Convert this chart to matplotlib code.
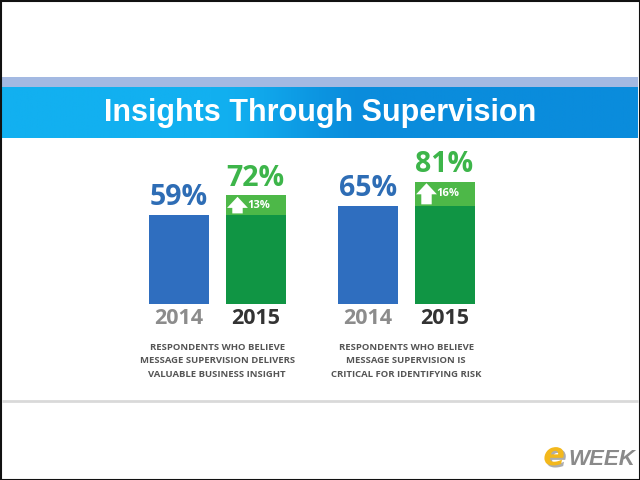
import numpy as np
import matplotlib.pyplot as plt
import matplotlib.patheffects as pe
from matplotlib.patches import Rectangle

# ---- data ----
groups = ["RESPONDENTS WHO BELIEVE\nMESSAGE SUPERVISION DELIVERS\nVALUABLE BUSINESS INSIGHT",
          "RESPONDENTS WHO BELIEVE\nMESSAGE SUPERVISION IS\nCRITICAL FOR IDENTIFYING RISK"]
years = ["2014", "2015"]
values_2014 = [59, 65]
values_2015 = [72, 81]
increase = [13, 16]
title = "Insights Through Supervision"

W, H = 640, 480
fig = plt.figure(figsize=(6.4, 4.8), dpi=100)
fig.patch.set_facecolor("white")

# background / decoration axes in pixel coordinates
bg = fig.add_axes([0, 0, 1, 1])
bg.set_xlim(0, W)
bg.set_ylim(H, 0)
bg.axis("off")

# light strip above banner
bg.add_patch(Rectangle((2, 77), W - 4, 10, color="#a3b9e2", lw=0))
# banner gradient
xs = np.linspace(0, 1, 640)
c1 = np.array([0x12, 0xb0, 0xf0]) / 255
c2 = np.array([0x0a, 0x8c, 0xdc]) / 255
t = np.clip((xs - 0.33) / (0.25), 0, 1)
t = t * t * (3 - 2 * t)
grad = (c1[None, :] * (1 - t[:, None]) + c2[None, :] * t[:, None])
img = np.tile(grad[None, :, :], (10, 1, 1))
bg.imshow(img, extent=(2, W - 2, 138, 87), aspect="auto", zorder=1)
bg.set_xlim(0, W)
bg.set_ylim(H, 0)
bg.text(320, 113, title, ha="center", va="center", color="white",
        fontsize=22, fontweight="bold", family="Liberation Sans", zorder=3)

# separator line
bg.plot([2, W - 2], [401, 401], color="#d9d9d9", lw=2, solid_capstyle="butt")

# frame
bg.add_patch(Rectangle((0.5, 0.5), W - 1, H - 1, fill=False, ec="#111111", lw=1.5, zorder=5))

# eWEEK logo
bg.text(565, 465, "e", ha="right", va="baseline", color="#f3b81c", fontsize=23,
        fontweight="bold", style="italic", family="DejaVu Sans", zorder=4,
        path_effects=[pe.withSimplePatchShadow(offset=(1.5, -1.5), shadow_rgbFace="#999999", alpha=0.8)])
bg.text(568, 465, "WEEK", ha="left", va="baseline", color="#8a8a8a", fontsize=16,
        fontweight="bold", style="italic", family="Liberation Sans", zorder=4)

# ---- bar axes ----
base_px = 304
px_per_pct = 1.51
ax = fig.add_axes([0, (H - base_px) / H, 1, 100 * px_per_pct / H])
ax.set_xlim(0, W)
ax.set_ylim(0, 100)
ax.axis("off")
ax.patch.set_alpha(0)

centers_2014 = [179, 368]
centers_2015 = [255.5, 444.5]
bw = 60
blue = "#2f6ebf"
dgreen = "#109544"
lgreen = "#4db848"
tgreen = "#3db54a"

ax.bar(centers_2014, values_2014, width=bw, color=blue)
base_2015 = [v - d for v, d in zip(values_2015, increase)]
ax.bar(centers_2015, base_2015, width=bw, color=dgreen)
ax.bar(centers_2015, increase, bottom=base_2015, width=bw, color=lgreen)

for i in range(len(groups)):
    ax.annotate(f"{values_2014[i]}%", (centers_2014[i], values_2014[i]),
                xytext=(0, 2), textcoords="offset points", ha="center", va="bottom",
                color="#2e6db5", fontsize=20.5, fontweight="bold", family="Open Sans")
    ax.annotate(f"{values_2015[i]}%", (centers_2015[i], values_2015[i]),
                xytext=(0, 2), textcoords="offset points", ha="center", va="bottom",
                color=tgreen, fontsize=20.5, fontweight="bold", family="Open Sans")
    mid = base_2015[i] + increase[i] / 2
    # arrow
    ax.annotate("", xy=(centers_2015[i] - 18, values_2015[i] - 1),
                xytext=(centers_2015[i] - 18, base_2015[i] + 1),
                arrowprops=dict(arrowstyle="simple,head_width=1.5,head_length=0.8,tail_width=0.75",
                                color="white", lw=0, shrinkA=0, shrinkB=0))
    ax.text(centers_2015[i] - 8, mid, f"{increase[i]}%", ha="left", va="center",
            color="white", fontsize=8, fontweight="bold", family="Open Sans")
    # year labels
    ax.annotate(years[0], (centers_2014[i], 0), xytext=(0, -10.5), textcoords="offset points",
                ha="center", va="center", color="#8c8c8c", fontsize=15.5, fontweight="bold",
                family="Open Sans")
    ax.annotate(years[1], (centers_2015[i], 0), xytext=(0, -10.5), textcoords="offset points",
                ha="center", va="center", color="#333333", fontsize=15.5, fontweight="bold",
                family="Open Sans")
    gc = (centers_2014[i] + centers_2015[i]) / 2
    ax.annotate(groups[i], (gc, 0), xytext=(0, -41), textcoords="offset points",
                ha="center", va="center", color="#555555", fontsize=6.8, fontweight="bold",
                family="Open Sans", linespacing=1.6)

fig.savefig("out.png", dpi=100)
